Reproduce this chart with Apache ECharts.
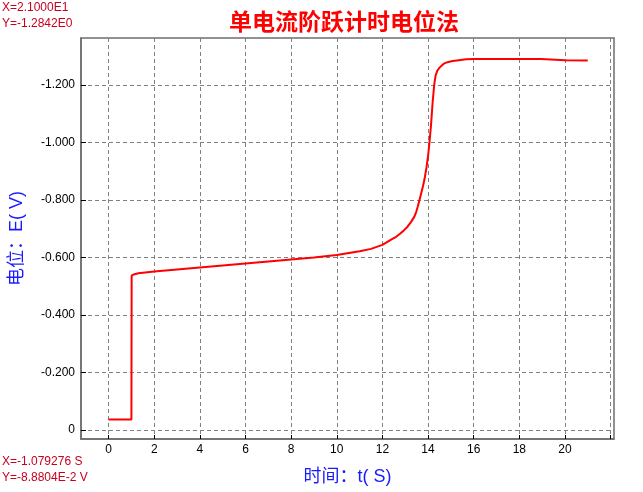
<!DOCTYPE html>
<html>
<head>
<meta charset="utf-8">
<script src="https://cdn.jsdelivr.net/npm/echarts@6/dist/echarts.min.js"></script>
<style>html,body{margin:0;padding:0;background:#fff;}#c{width:643px;height:492px;}</style>
</head>
<body>
<div id="c"></div>
<script>
var titleText = '单电流阶跃计时电位法';
var xName = '时间：t( S)';
var yName = '电位：E( V)';
var cornerTop = ['X=2.1000E1', 'Y=-1.2842E0'];
var cornerBottom = ['X=-1.079276 S', 'Y=-8.8804E-2 V'];

var xTicks = [0, 2, 4, 6, 8, 10, 12, 14, 16, 18, 20, 22];
var xLabels = [0, 2, 4, 6, 8, 10, 12, 14, 16, 18, 20];
var yTicks = [0, -0.2, -0.4, -0.6, -0.8, -1.0, -1.2];

var timeS = [0, 0.5, 1.0, 1.01, 1.1, 1.3, 1.6, 2.0, 3.0, 4.0, 5.0, 6.0, 7.0, 8.0, 9.0, 10.0, 11.0, 11.5, 12.0, 12.4, 12.6, 12.8, 12.95, 13.1, 13.25, 13.4, 13.48, 13.55, 13.62, 13.7, 13.77, 13.84, 13.93, 14.0, 14.06, 14.13, 14.2, 14.27, 14.33, 14.4, 14.48, 14.58, 14.7, 14.85, 15.07, 15.35, 15.67, 16.0, 17.0, 18.0, 18.95, 19.0, 20.0, 21.0];
var potentialV = [-0.037, -0.037, -0.037, -0.537, -0.541, -0.545, -0.548, -0.551, -0.558, -0.565, -0.572, -0.579, -0.586, -0.593, -0.600, -0.609, -0.622, -0.630, -0.644, -0.663, -0.672, -0.684, -0.695, -0.707, -0.723, -0.742, -0.758, -0.777, -0.798, -0.823, -0.845, -0.870, -0.912, -0.952, -0.998, -1.060, -1.138, -1.200, -1.232, -1.248, -1.258, -1.266, -1.274, -1.279, -1.283, -1.286, -1.289, -1.290, -1.290, -1.290, -1.290, -1.287, -1.286, -1.285];

var seriesData = timeS.map(function (t, i) { return [t, potentialV[i]]; });

var chart = echarts.init(document.getElementById('c'), null, {renderer: 'canvas'});
var cornerStyle = {fill: '#c8001e', font: '12px "Liberation Sans", Arial, sans-serif'};
chart.setOption({
  animation: false,
  backgroundColor: '#ffffff',
  title: {
    text: titleText,
    left: 339, top: 5, textAlign: 'center',
    textStyle: {color: '#ff0000', fontSize: 23, fontWeight: 'bold', fontFamily: '"Noto Sans CJK SC", sans-serif'}
  },
  grid: {left: 79, top: 38, right: 29, bottom: 53, show: true, borderColor: '#6e6e6e', borderWidth: 1.5, backgroundColor: 'transparent'},
  xAxis: {
    type: 'value', min: -1.21, max: 22.15,
    name: xName, nameLocation: 'middle', nameGap: 29,
    nameTextStyle: {color: '#1a1aff', fontSize: 18, fontFamily: '"Liberation Sans", "Noto Sans CJK SC", sans-serif'},
    axisLine: {show: true, onZero: false, lineStyle: {color: '#6e6e6e', width: 1.5}},
    axisTick: {show: true, inside: true, length: 4, customValues: xTicks, lineStyle: {color: '#000', width: 1}},
    axisLabel: {customValues: xLabels, color: '#000', fontSize: 12, margin: 5, fontFamily: '"Liberation Sans", Arial, sans-serif'},
    splitLine: {show: true, lineStyle: {color: '#808080', type: [4, 3], width: 1}}
  },
  yAxis: {
    type: 'value', inverse: true, min: -1.363, max: 0.031,
    name: yName, nameLocation: 'middle', nameGap: 55, nameRotate: 90,
    nameTextStyle: {color: '#1a1aff', fontSize: 18, fontFamily: '"Liberation Sans", "Noto Sans CJK SC", sans-serif'},
    axisLine: {show: true, onZero: false, lineStyle: {color: '#6e6e6e', width: 1.5}},
    axisTick: {show: true, inside: true, length: 5, customValues: yTicks, lineStyle: {color: '#000', width: 1}},
    axisLabel: {customValues: yTicks, color: '#000', fontSize: 12, margin: 6, fontFamily: '"Liberation Sans", Arial, sans-serif',
      formatter: function (v) { return Math.abs(v) < 1e-9 ? '0' : v.toFixed(3); }},
    splitLine: {show: true, lineStyle: {color: '#808080', type: [4, 3], width: 1}}
  },
  graphic: [
    {type: 'text', left: 2, top: 2, style: Object.assign({text: cornerTop[0]}, cornerStyle)},
    {type: 'text', left: 2, top: 18, style: Object.assign({text: cornerTop[1]}, cornerStyle)},
    {type: 'text', left: 2, top: 456, style: Object.assign({text: cornerBottom[0]}, cornerStyle)},
    {type: 'text', left: 2, top: 472, style: Object.assign({text: cornerBottom[1]}, cornerStyle)}
  ],
  series: [{
    type: 'line', data: seriesData, showSymbol: false, symbol: 'none', smooth: false,
    lineStyle: {color: '#ff0000', width: 2}, clip: true
  }]
});
</script>
</body>
</html>
